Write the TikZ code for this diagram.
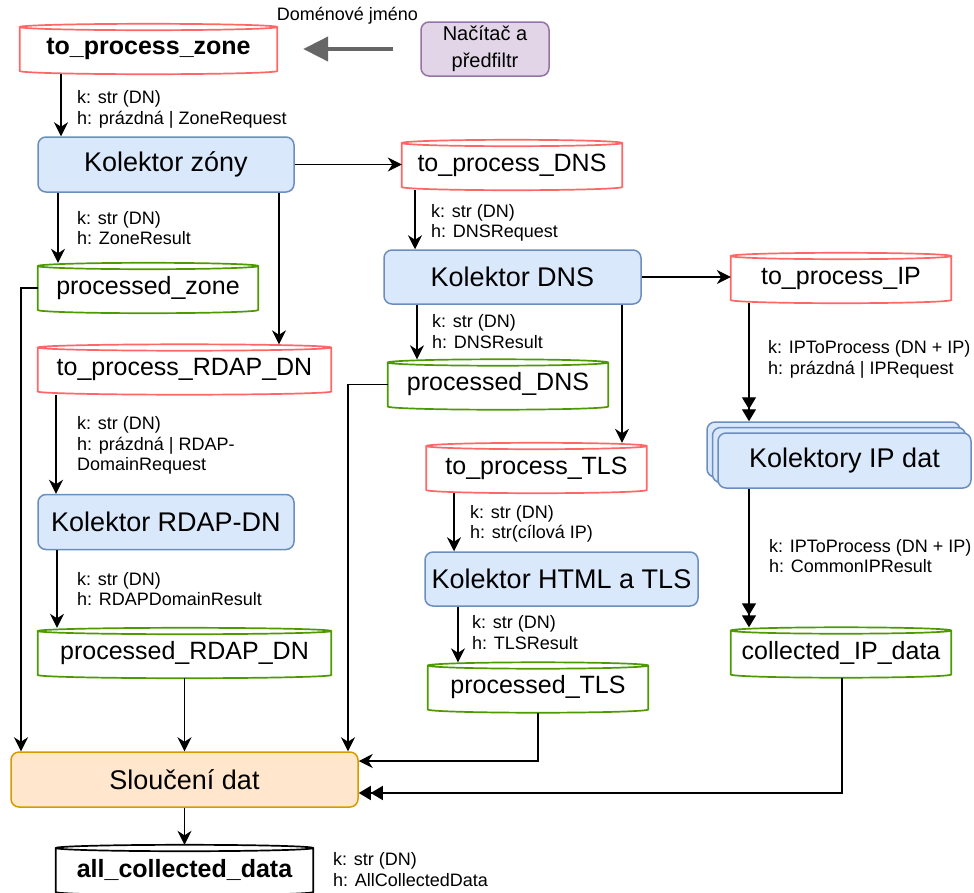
\documentclass[tikz,border=0pt]{standalone}
\usepackage{fontspec}
\setmainfont{Liberation Sans}
\usetikzlibrary{arrows.meta,calc,shadows}

\pgfdeclarelayer{back}
\pgfsetlayers{back,main}

\definecolor{queuered}{HTML}{FF6666}
\definecolor{queuegreen}{HTML}{4D9900}
\definecolor{procfill}{HTML}{DAE8FC}
\definecolor{procline}{HTML}{6C8EBF}
\definecolor{loadfill}{HTML}{E1D5E7}
\definecolor{loadline}{HTML}{9673A6}
\definecolor{mergefill}{HTML}{FFE6CC}
\definecolor{mergeline}{HTML}{D79B00}
\definecolor{feedgray}{HTML}{666666}

\tikzset{
  proc/.style={draw=procline, fill=procfill, rounded corners=8pt, line width=1.5pt,
    inner sep=0pt, font=\fontsize{27}{30}\selectfont},
  queue/.style={inner sep=0pt, minimum height=50pt, font=\fontsize{25}{28}\selectfont},
  lbl/.style={anchor=west, align=left, inner sep=0pt, font=\fontsize{18}{20.5}\selectfont},
  conn/.style={line width=1.4pt, -{Stealth[length=14pt,width=14pt,inset=4.5pt]}},
  dconn/.style={line width=1.4pt, -{Triangle[length=12pt,width=14pt]Triangle[length=12pt,width=14pt]}},
  feed/.style={line width=4.5pt, draw=feedgray, -{Triangle[length=25pt,width=24pt]}},
}

% queue cylinder drawn behind the named node #1 with outline colour #2
\newcommand\queuecyl[2]{%
  \begin{pgfonlayer}{back}
  \path[draw=#2, fill=white, line width=1.7pt]
    let \p1=(#1.north west), \p2=(#1.south east) in
    (\x1,\y1-3.2pt) -- (\x1,\y2+3.2pt)
    arc[start angle=180, end angle=360, x radius={(\x2-\x1)/2}, y radius=3.2pt]
    -- (\x2,\y1-3.2pt)
    arc[start angle=0, end angle=180, x radius={(\x2-\x1)/2}, y radius=3.2pt]
    -- cycle
    (\x1,\y1-3.2pt)
    arc[start angle=180, end angle=360, x radius={(\x2-\x1)/2}, y radius=3.2pt];
  \end{pgfonlayer}}

\begin{document}
\begin{tikzpicture}[x=1pt, y=-1pt]
\begin{pgfonlayer}{back}
  \fill[white] (0,0) rectangle (974,892);
\end{pgfonlayer}
\useasboundingbox (0,0) rectangle (974,892);

% loader and input queue
\node[queue, minimum width=257pt, font=\fontsize{25}{28}\selectfont\bfseries] (tpz) at (148.5,49) {to\_process\_zone};
\node[draw=loadline, fill=loadfill, rounded corners=8pt, line width=1.5pt, inner sep=0pt,
      minimum width=128pt, minimum height=54pt, align=center,
      font=\fontsize{20}{27}\selectfont] (nac) at (485,49) {Načítač a\\předfiltr};
\node[font=\fontsize{18}{21}\selectfont, inner sep=0pt] (dn) at (347.5,16) {Doménové jméno};

% zone branch
\node[proc, minimum width=256pt, minimum height=55pt] (kz) at (166,164.5) {Kolektor zóny};
\node[queue, minimum width=220pt] (pz) at (148,288) {processed\_zone};
\node[queue, minimum width=293pt] (tprdap) at (184.5,369.5) {to\_process\_RDAP\_DN};
\node[proc, minimum width=256pt, minimum height=55pt] (krdap) at (166,522) {Kolektor RDAP-DN};
\node[queue, minimum width=293pt] (prdap) at (184.5,653) {processed\_RDAP\_DN};

% DNS branch
\node[queue, minimum width=220pt] (tpdns) at (512,165) {to\_process\_DNS};
\node[proc, minimum width=257pt, minimum height=54pt] (kdns) at (512.5,277) {Kolektor DNS};
\node[queue, minimum width=220pt] (pdns) at (498,384.5) {processed\_DNS};
\node[queue, minimum width=220pt] (tptls) at (536.5,468) {to\_process\_TLS};
\node[proc, minimum width=273pt, minimum height=54pt] (khtml) at (561.5,579) {Kolektor HTML a TLS};
\node[queue, minimum width=220pt] (ptls) at (538,687.5) {processed\_TLS};

% IP branch
\node[queue, minimum width=220pt] (tpip) at (841,278) {to\_process\_IP};
\node[proc, minimum width=253pt, minimum height=55pt,
      copy shadow={shadow xshift=-11pt, shadow yshift=11pt},
      copy shadow={shadow xshift=-5.5pt, shadow yshift=5.5pt}] (kip) at (844.5,460.5) {Kolektory IP dat};
\node[queue, minimum width=220pt] (cip) at (841,652.5) {collected\_IP\_data};

% merge and output
\node[draw=mergeline, fill=mergefill, rounded corners=8pt, line width=1.5pt, inner sep=0pt,
      minimum width=347pt, minimum height=55pt, font=\fontsize{27}{30}\selectfont] (slo) at (184.5,779.5) {Sloučení dat};
\node[queue, minimum width=257pt, font=\fontsize{25}{28}\selectfont\bfseries] (acd) at (184.5,870) {all\_collected\_data};

% queue outlines
\queuecyl{tpz}{queuered}
\queuecyl{tpdns}{queuered}
\queuecyl{tpip}{queuered}
\queuecyl{tprdap}{queuered}
\queuecyl{tptls}{queuered}
\queuecyl{pz}{queuegreen}
\queuecyl{pdns}{queuegreen}
\queuecyl{prdap}{queuegreen}
\queuecyl{ptls}{queuegreen}
\queuecyl{cip}{queuegreen}
\queuecyl{acd}{black}

% message type labels
\node[lbl] (l1) at (77,109.5) {k: str (DN)\\h: prázdná | ZoneRequest};
\node[lbl] (l2) at (77,228) {k: str (DN)\\h: ZoneResult};
\node[lbl] (l3) at (431,223) {k: str (DN)\\h: DNSRequest};
\node[lbl] (l4) at (432,331.5) {k: str (DN)\\h: DNSResult};
\node[lbl] (l5) at (768,359.5) {k: IPToProcess (DN + IP)\\h: prázdná | IPRequest};
\node[lbl] (l6) at (77,445.5) {k: str (DN)\\h: prázdná | RDAP-\\DomainRequest};
\node[lbl] (l7) at (77,589) {k: str (DN)\\h: RDAPDomainResult};
\node[lbl] (l8) at (470,524) {k: str (DN)\\h: str(cílová IP)};
\node[lbl] (l9) at (472,632.5) {k: str (DN)\\h: TLSResult};
\node[lbl] (l10) at (769,556) {k: IPToProcess (DN + IP)\\h: CommonIPResult};
\node[lbl] (l11) at (333,869.5) {k: str (DN)\\h: AllCollectedData};

% connectors
\coordinate (feedtail) at ([xshift=-27pt]nac.west);
\coordinate (feedtip) at ([xshift=26pt]tpz.east);
\draw[feed] (feedtail) -- (feedtip);

\draw[conn] (tpz.south -| 61,0) -- (kz.north -| 61,0);
\draw[conn] (kz.east) -- (kz.east -| tpdns.west);
\draw[conn] (kz.south -| 58,0) -- (pz.north -| 58,0);
\draw[conn] (kz.south -| 279,0) -- (tprdap.north -| 279,0);
\draw[conn] (tprdap.south -| 56,0) -- (krdap.north -| 56,0);
\draw[conn] (krdap.south -| 57,0) -- (prdap.north -| 57,0);
\draw[conn] (prdap.south) -- (slo.north);
\draw[conn] (pz.west) -| (slo.north -| 21,0);

\draw[conn] (tpdns.south -| 415,0) -- (kdns.north -| 415,0);
\draw[conn] (kdns.east) -- (kdns.east -| tpip.west);
\draw[conn] (kdns.south -| 417,0) -- (pdns.north -| 417,0);
\draw[conn] (pdns.west) -| (slo.north -| 348,0);
\draw[conn] (kdns.south -| 622,0) -- (tptls.north -| 622,0);
\draw[conn] (tptls.south -| 454,0) -- (khtml.north -| 454,0);
\draw[conn] (khtml.south -| 458,0) -- (ptls.north -| 458,0);
\draw[conn] (ptls.south) |- (slo.east |- 0,761);

\coordinate (kiptop) at ([yshift=11pt]kip.north);
\draw[dconn] (tpip.south -| 749,0) -- (kiptop -| 749,0);
\draw[dconn] (kip.south -| 749,0) -- (cip.north -| 749,0);
\draw[dconn] (cip.south -| 842,0) |- (slo.east |- 0,793);

\draw[conn] (slo.south) -- (acd.north);
\end{tikzpicture}
\end{document}
